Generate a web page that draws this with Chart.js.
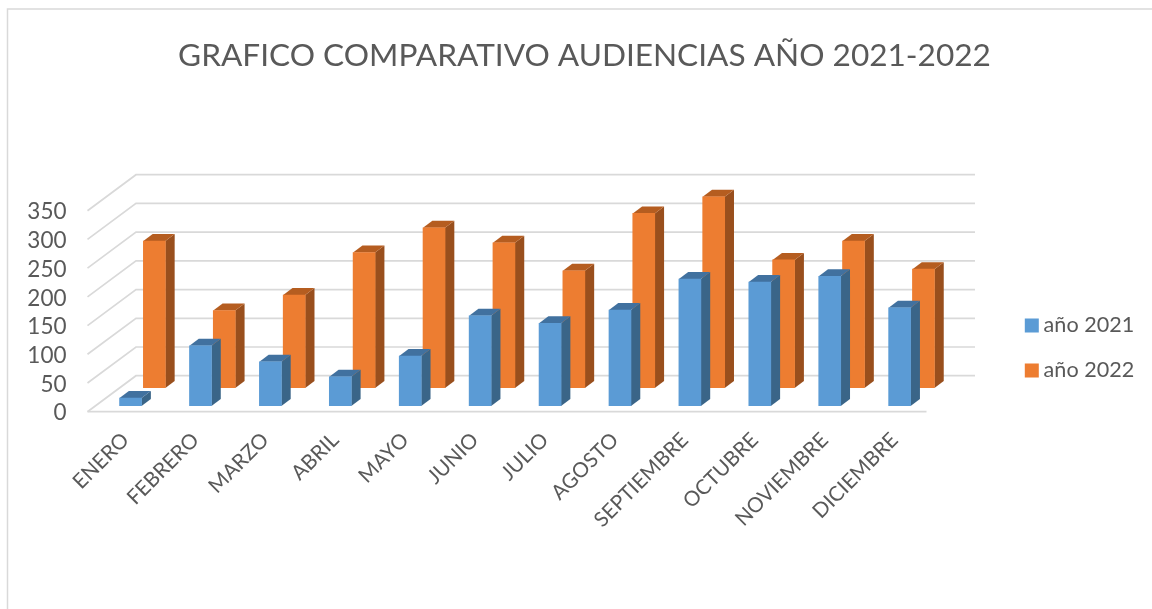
<!DOCTYPE html>
<html>
<head>
<meta charset="utf-8">
<title>Audiencias 2021-2022</title>
<script src="https://cdn.jsdelivr.net/npm/chart.js@4"></script>
<style>
    html, body { margin: 0; padding: 0; background: #fff; }
    #wrap { width: 1152px; height: 609px; position: relative; }
</style>
</head>
<body>
<div id="wrap"><canvas id="audienceChart" width="1152" height="609"></canvas></div>
<script>
const months = ['ENERO', 'FEBRERO', 'MARZO', 'ABRIL', 'MAYO', 'JUNIO', 'JULIO', 'AGOSTO', 'SEPTIEMBRE', 'OCTUBRE', 'NOVIEMBRE', 'DICIEMBRE'];
const year2021 = [14, 105, 77, 51, 87, 157, 144, 167, 221, 216, 226, 171];
const year2022 = [256, 135, 162, 236, 279, 253, 204, 304, 333, 223, 256, 207];
const yearLabels = ['año 2021', 'año 2022'];

const textColor = '#595959';
const gridColor = '#d9d9d9';
const fontName = 'Lato';

// how far the back wall sits from the front plane
const wallX = 48.5;
const wallY = -36;
// where each row of bars stands between the front plane and the wall
const rowShift = [{ x: 8.1, y: -5.7 }, { x: 31.9, y: -23.7 }];
// depth of a single bar, and the darker faces
const barDepthX = 9.3;
const barDepthY = -7;
const topColors = ['#41719f', '#b55d20'];
const sideColors = ['#3a6588', '#994f1d'];

// moves an axis' labels by a few pixels, Chart.js has no option for it
function nudgeLabels(chart, axis, dx, dy) {
    if (axis.labelsNudged) return;
    const drawLabels = axis.drawLabels;
    axis.drawLabels = function (area) {
        chart.ctx.save();
        chart.ctx.translate(dx, dy);
        drawLabels.call(this, area);
        chart.ctx.restore();
    };
    axis.labelsNudged = true;
}

const frame3d = {
    id: 'frame3d',
    beforeInit(chart) {
        // fixed legend column so the plot keeps its width
        const fit = chart.legend.fit;
        chart.legend.fit = function () {
            fit.call(this);
            this.width = 225.5;
        };
    },
    afterLayout(chart) {
        // the title is centred a bit right of the page, legend sits in the right margin
        chart.titleBlock.left = 17;
        chart.titleBlock.right = 1152;
        chart.legend.left = 1007.4;
        chart.legend.top = 100;
        chart.legend.bottom = 596;

        nudgeLabels(chart, chart.scales.y, 0, 1.5);
        nudgeLabels(chart, chart.scales.x, 3, 0);
    },
    beforeDatasetsDraw(chart) {
        const { ctx, chartArea, scales } = chart;
        ctx.save();
        // outer frame of the embedded chart
        ctx.strokeStyle = gridColor;
        ctx.lineWidth = 1.5;
        ctx.beginPath();
        ctx.moveTo(7.5, 609);
        ctx.lineTo(7.5, 9);
        ctx.lineTo(1152, 9);
        ctx.stroke();

        ctx.lineWidth = 1.7;
        scales.y.ticks.forEach(tick => {
            const y = scales.y.getPixelForValue(tick.value);
            ctx.beginPath();
            ctx.moveTo(chartArea.left, y);
            ctx.lineTo(chartArea.left + wallX, y + wallY);
            ctx.lineTo(chartArea.right + wallX, y + wallY);
            ctx.stroke();
        });
        // front edge of the floor
        ctx.beginPath();
        ctx.moveTo(chartArea.left, chartArea.bottom);
        ctx.lineTo(chartArea.right, chartArea.bottom);
        ctx.stroke();
        ctx.restore();
    },
    beforeDatasetDraw(chart, args) {
        const { ctx } = chart;
        const shift = rowShift[args.index];
        ctx.save();
        ctx.translate(shift.x, shift.y);
        args.meta.data.forEach(bar => {
            const half = bar.width / 2;
            ctx.fillStyle = sideColors[args.index];
            ctx.beginPath();
            ctx.moveTo(bar.x + half, bar.y);
            ctx.lineTo(bar.x + half + barDepthX, bar.y + barDepthY);
            ctx.lineTo(bar.x + half + barDepthX, bar.base + barDepthY);
            ctx.lineTo(bar.x + half, bar.base);
            ctx.closePath();
            ctx.fill();
            ctx.fillStyle = topColors[args.index];
            ctx.beginPath();
            ctx.moveTo(bar.x - half, bar.y);
            ctx.lineTo(bar.x - half + barDepthX, bar.y + barDepthY);
            ctx.lineTo(bar.x + half + barDepthX, bar.y + barDepthY);
            ctx.lineTo(bar.x + half, bar.y);
            ctx.closePath();
            ctx.fill();
        });
    },
    afterDatasetDraw(chart) {
        chart.ctx.restore();
    }
};

const ctx = document.getElementById('audienceChart').getContext('2d');
new Chart(ctx, {
    type: 'bar',
    plugins: [frame3d],
    data: {
        labels: months,
        datasets: [
            { label: yearLabels[0], data: year2021, backgroundColor: '#5b9bd5', grouped: false, barThickness: 22 },
            { label: yearLabels[1], data: year2022, backgroundColor: '#ed7d31', grouped: false, barThickness: 22 }
        ]
    },
    options: {
        responsive: false,
        animation: false,
        plugins: {
            title: {
                display: true,
                text: 'GRAFICO COMPARATIVO AUDIENCIAS AÑO 2021-2022',
                color: textColor,
                font: { family: fontName, size: 31.6, weight: 'normal' },
                padding: { top: 37, bottom: 135.8 }
            },
            legend: {
                position: 'right',
                labels: {
                    color: textColor,
                    font: { family: fontName, size: 21.6 },
                    boxWidth: 2,
                    boxHeight: 2,
                    padding: 23.4,
                    // small box with a thick stroke, keeps the text close to the swatch
                    generateLabels(chart) {
                        return Chart.defaults.plugins.legend.labels.generateLabels(chart).map(item => ({
                            ...item,
                            strokeStyle: item.fillStyle,
                            lineWidth: 12
                        }));
                    }
                }
            },
            tooltip: { enabled: false }
        },
        scales: {
            x: {
                grid: { display: false, drawTicks: false },
                border: { display: false },
                ticks: {
                    color: textColor,
                    font: { family: fontName, size: 20.7 },
                    minRotation: 45,
                    maxRotation: 45,
                    padding: 16,
                    autoSkip: false
                },
                afterFit(scale) { scale.height = 197.3; }
            },
            y: {
                min: 0,
                max: 350,
                grid: { display: false, drawTicks: false },
                border: { display: false },
                ticks: {
                    stepSize: 50,
                    autoSkip: false,
                    color: textColor,
                    font: { family: fontName, size: 22.5 },
                    padding: 21
                },
                afterFit(scale) { scale.width = 87.5; }
            }
        }
    }
});
</script>
</body>
</html>
